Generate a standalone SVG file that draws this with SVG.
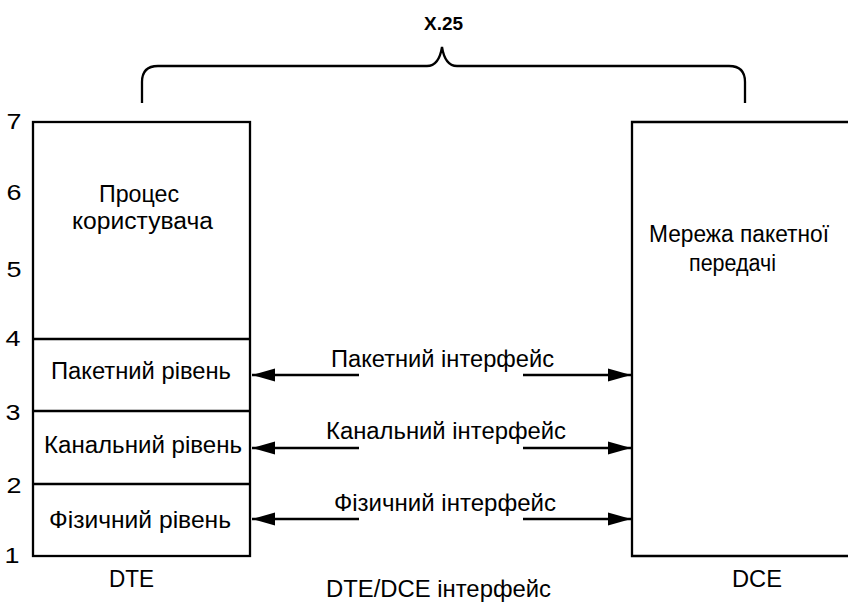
<svg xmlns="http://www.w3.org/2000/svg" width="848" height="604" viewBox="0 0 848 604">
  <style>
    text { font-family: "Liberation Sans", Arial, sans-serif; font-size: 23px; fill: #000; }
    .mid { text-anchor: middle; }
    .bold { font-weight: bold; font-size: 18px; }
    .num { text-anchor: middle; font-size: 22px; }
    .box { fill: #fff; stroke: #000; stroke-width: 2.3; }
    .line { fill: none; stroke: #000; stroke-width: 2.3; }
    .conn { fill: none; stroke: #000; stroke-width: 2.3; }
  </style>
  <defs>
    <marker id="arrow" markerUnits="userSpaceOnUse" markerWidth="24" markerHeight="14" refX="23" refY="7" orient="auto-start-reverse" viewBox="0 0 24 14">
      <path d="M0,0.5 L23,7 L0,13.5 Z" fill="#000"/>
    </marker>
  </defs>

  <!-- X.25 brace spanning both sides -->
  <g id="x25">
    <text class="bold mid" x="443.5" y="30" textLength="39" lengthAdjust="spacingAndGlyphs">X.25</text>
    <path class="line" stroke-width="2.5" d="M142,103 V82 Q142,66 158,66 H427 Q439,66 442,47 Q445,66 457,66 H729 Q745,66 745,82 V103"/>
  </g>

  <!-- OSI level numbers -->
  <g id="levels">
    <text class="num" x="14" y="129" textLength="15" lengthAdjust="spacingAndGlyphs">7</text>
    <text class="num" x="14" y="200" textLength="15" lengthAdjust="spacingAndGlyphs">6</text>
    <text class="num" x="14" y="277" textLength="15" lengthAdjust="spacingAndGlyphs">5</text>
    <text class="num" x="13" y="346" textLength="15" lengthAdjust="spacingAndGlyphs">4</text>
    <text class="num" x="13" y="420" textLength="15" lengthAdjust="spacingAndGlyphs">3</text>
    <text class="num" x="14" y="493" textLength="15" lengthAdjust="spacingAndGlyphs">2</text>
    <text class="num" x="12" y="563" textLength="15" lengthAdjust="spacingAndGlyphs">1</text>
  </g>

  <!-- DTE stack -->
  <g id="dte">
    <rect class="box" x="33" y="122" width="217" height="434"/>
    <line class="line" x1="33" y1="339" x2="250" y2="339"/>
    <line class="line" x1="33" y1="411" x2="250" y2="411"/>
    <line class="line" x1="33" y1="484" x2="250" y2="484"/>
    <text class="mid" x="131.5" y="587" textLength="45" lengthAdjust="spacingAndGlyphs">DTE</text>
  </g>
  <g id="user-process">
    <text class="mid" x="139" y="202" textLength="80" lengthAdjust="spacingAndGlyphs">Процес</text>
    <text class="mid" x="142.5" y="229" textLength="141" lengthAdjust="spacingAndGlyphs">користувача</text>
  </g>
  <g id="packet-level">
    <text class="mid" x="141" y="379" textLength="180" lengthAdjust="spacingAndGlyphs">Пакетний рівень</text>
  </g>
  <g id="link-level">
    <text class="mid" x="143" y="453" textLength="198" lengthAdjust="spacingAndGlyphs">Канальний рівень</text>
  </g>
  <g id="physical-level">
    <text class="mid" x="140" y="528" textLength="182" lengthAdjust="spacingAndGlyphs">Фізичний рівень</text>
  </g>

  <!-- DCE: packet network, open on the right -->
  <g id="dce">
    <path class="box" d="M852,122 H632 V556 H852"/>
    <text class="mid" x="739" y="242" textLength="180" lengthAdjust="spacingAndGlyphs">Мережа пакетної</text>
    <text class="mid" x="732.5" y="271" textLength="87" lengthAdjust="spacingAndGlyphs">передачі</text>
    <text class="mid" x="757" y="587" textLength="50" lengthAdjust="spacingAndGlyphs">DCE</text>
  </g>

  <!-- Interfaces between DTE and DCE -->
  <g id="connectors">
    <line class="conn" x1="359" y1="375" x2="252" y2="375" marker-end="url(#arrow)"/>
    <line class="conn" x1="523" y1="375" x2="631" y2="375" marker-end="url(#arrow)"/>
    <line class="conn" x1="359" y1="448" x2="252" y2="448" marker-end="url(#arrow)"/>
    <line class="conn" x1="523" y1="448" x2="631" y2="448" marker-end="url(#arrow)"/>
    <line class="conn" x1="359" y1="519" x2="252" y2="519" marker-end="url(#arrow)"/>
    <line class="conn" x1="523" y1="519" x2="631" y2="519" marker-end="url(#arrow)"/>
  </g>
  <g id="interface-labels">
    <text class="mid" x="442.5" y="367" textLength="223" lengthAdjust="spacingAndGlyphs">Пакетний інтерфейс</text>
    <text class="mid" x="446" y="439" textLength="240" lengthAdjust="spacingAndGlyphs">Канальний інтерфейс</text>
    <text class="mid" x="445" y="511" textLength="222" lengthAdjust="spacingAndGlyphs">Фізичний інтерфейс</text>
    <text class="mid" x="438.5" y="597" textLength="225" lengthAdjust="spacingAndGlyphs">DTE/DCE інтерфейс</text>
  </g>
</svg>
